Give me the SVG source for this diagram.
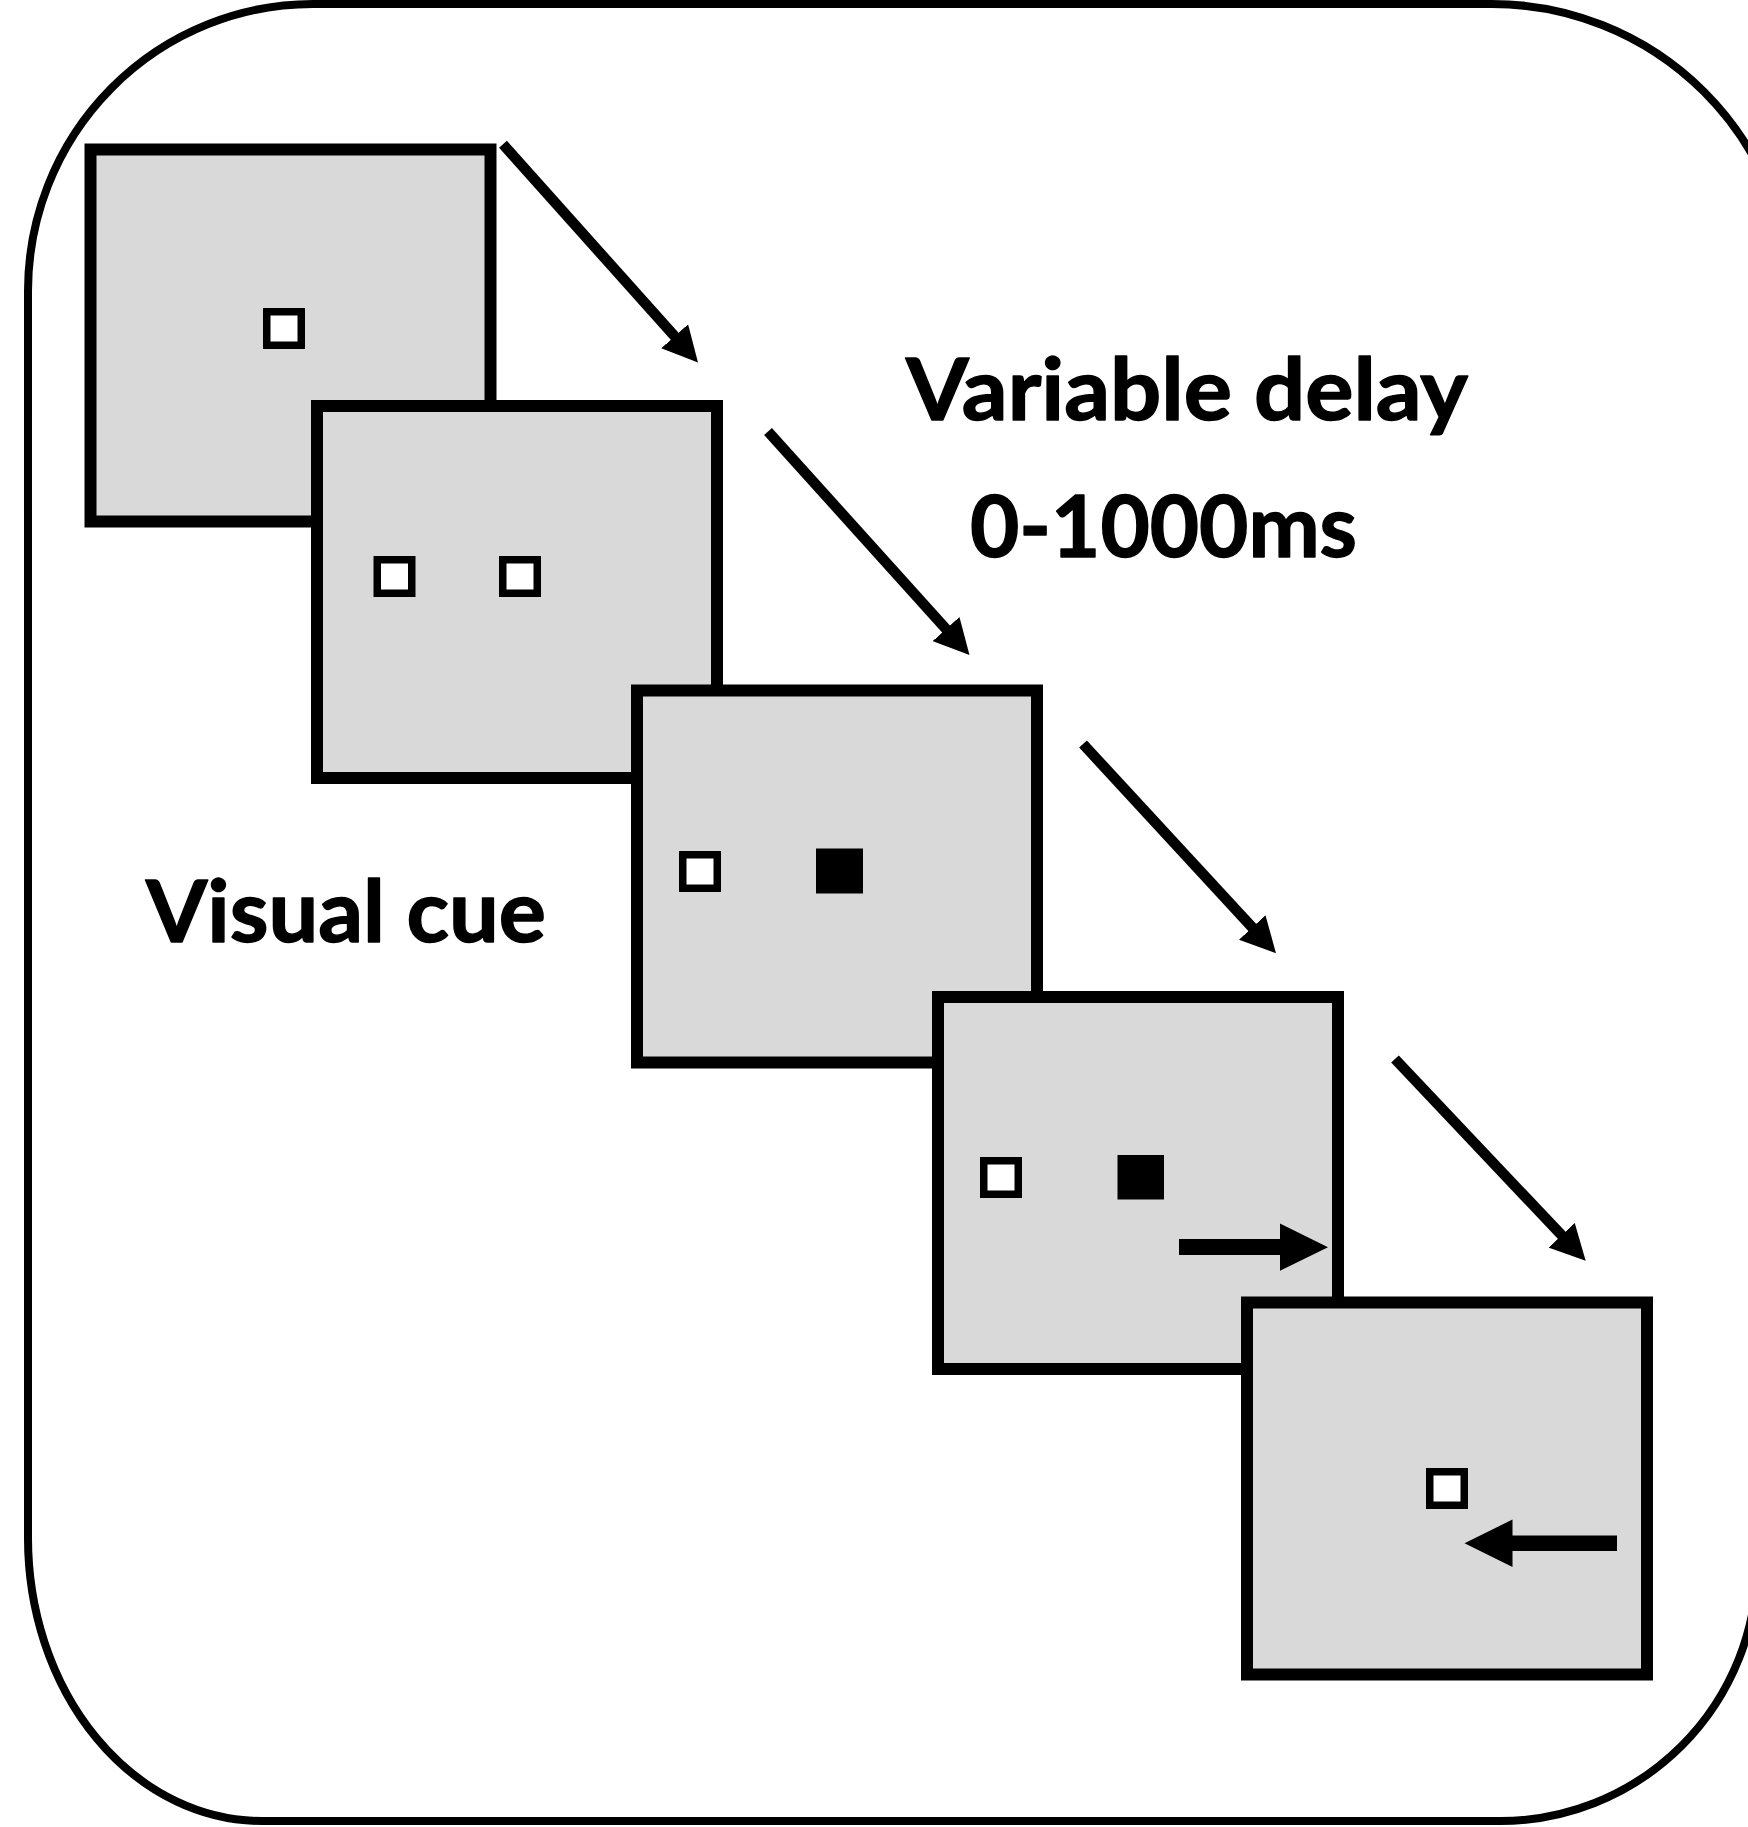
<svg xmlns="http://www.w3.org/2000/svg" width="1748" height="1827" viewBox="0 0 1748 1827">
  <style>
    .frame { fill: #ffffff; stroke: #000000; stroke-width: 8; }
    .screen { fill: #d9d9d9; stroke: #000000; stroke-width: 12; }
    .box { fill: #ffffff; stroke: #000000; stroke-width: 7.5; }
    .dot { fill: #000000; }
    .flow { fill: none; stroke: #000000; stroke-width: 10.5; stroke-linecap: butt; }
    .label { font-family: "Lato", "Open Sans", "Liberation Sans", sans-serif; font-weight: 700; font-size: 86px; fill: #000000; stroke: #000000; stroke-width: 1.4; stroke-linejoin: round; }
  </style>
  <defs>
    <marker id="head" markerUnits="userSpaceOnUse" markerWidth="36" markerHeight="36" viewBox="0 0 36 36" refX="2" refY="18" orient="auto">
      <path d="M0,0 L35,18 L0,36 Z" fill="#000000"/>
    </marker>
  </defs>

  <rect width="1748" height="1827" fill="#ffffff"/>

  <!-- outer rounded frame, running off the right edge -->
  <path class="frame" d="M313,4 H1492 A300,300 0 0 1 1792,303 L1757,1564 A257,257 0 0 1 1500,1821 H262 A234,283 0 0 1 28,1538 V291 A285,287 0 0 1 313,4 Z"/>

  <!-- screen 1: fixation box -->
  <g id="screen-1">
    <rect class="screen" x="90.5" y="149.5" width="400" height="372"/>
    <rect class="box" x="266.75" y="311.75" width="34.5" height="33.5"/>
  </g>

  <!-- screen 2: two placeholder boxes -->
  <g id="screen-2">
    <rect class="screen" x="317" y="406" width="400" height="372"/>
    <rect class="box" x="377.25" y="559.75" width="34.5" height="33.5"/>
    <rect class="box" x="502.75" y="559.75" width="34.5" height="33.5"/>
  </g>

  <!-- screen 3: cue filled -->
  <g id="screen-3">
    <rect class="screen" x="637" y="690.5" width="400" height="372"/>
    <rect class="box" x="682.75" y="854.75" width="34.5" height="33.5"/>
    <rect class="dot" x="816" y="848.5" width="47" height="45"/>
  </g>

  <!-- screen 4: cue plus rightward arrow -->
  <g id="screen-4">
    <rect class="screen" x="938" y="997" width="400" height="372"/>
    <rect class="box" x="983.75" y="1160.75" width="34.5" height="33.5"/>
    <rect class="dot" x="1117.5" y="1155" width="46.5" height="44.5"/>
    <path class="dot" d="M1179,1239 H1280 V1223.5 L1328,1247.3 L1280,1270.7 V1255 H1179 Z"/>
  </g>

  <!-- screen 5: single box plus leftward arrow -->
  <g id="screen-5">
    <rect class="screen" x="1247" y="1302.5" width="400" height="372"/>
    <rect class="box" x="1429.75" y="1471.75" width="34.5" height="33.5"/>
    <path class="dot" d="M1617,1535.5 H1512.5 V1519.5 L1464.5,1543.3 L1512.5,1567 V1551 H1617 Z"/>
  </g>

  <!-- transitions between screens -->
  <g id="connectors">
    <line class="flow" x1="503" y1="144.3" x2="676" y2="337.8" marker-end="url(#head)"/>
    <line class="flow" x1="768" y1="431.5" x2="947.4" y2="630.5" marker-end="url(#head)"/>
    <line class="flow" x1="1083" y1="744" x2="1253.6" y2="928.9" marker-end="url(#head)"/>
    <line class="flow" x1="1395" y1="1059" x2="1563" y2="1236.7" marker-end="url(#head)"/>
  </g>

  <g id="labels">
    <text class="label" x="906" y="420" textLength="562" lengthAdjust="spacingAndGlyphs">Variable delay</text>
    <text class="label" x="970" y="556.7" textLength="387" lengthAdjust="spacingAndGlyphs">0-1000ms</text>
    <text class="label" x="146" y="941.7" textLength="400" lengthAdjust="spacingAndGlyphs">Visual cue</text>
  </g>
</svg>
